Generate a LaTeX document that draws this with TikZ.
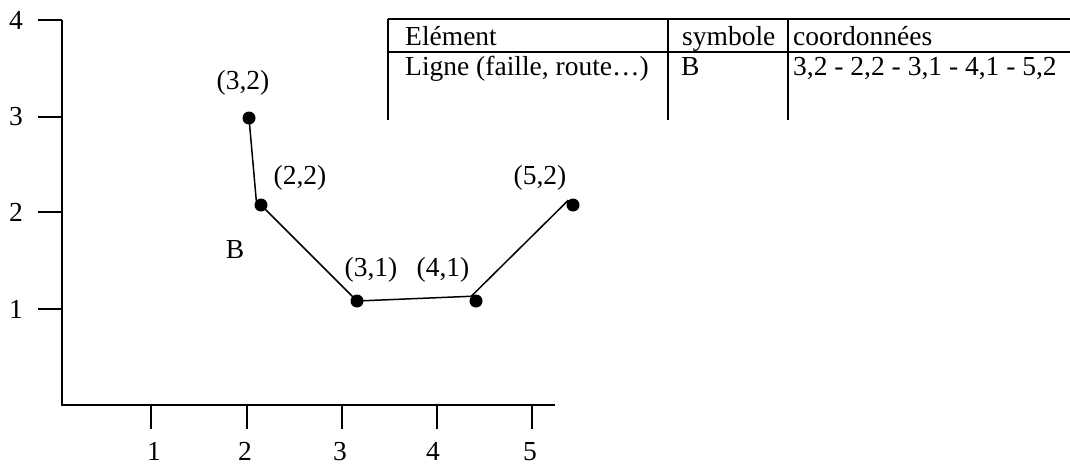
\documentclass[tikz,border=0pt]{standalone}
\usepackage{fontspec}
\setmainfont{Liberation Serif}
\begin{document}
\begin{tikzpicture}[x=1pt,y=-1pt,
  every node/.style={font=\fontsize{27.5}{33}\selectfont, inner sep=0pt},
  axis/.style={line width=1.6pt},
  rule/.style={line width=1.6pt},
  trace/.style={line width=1.5pt},
  pt/.style={circle, fill=black, minimum size=13pt, inner sep=0pt}]
\useasboundingbox (0,0) rectangle (1070,466);
% axes
\draw[axis] (62,20) -- (62,405) -- (555,405);
\foreach \y/\l in {20/4,117/3,212/2,309/1}{
  \draw[axis] (38,\y) -- (62,\y);
  \node (yl\l) at (16,\y) {\l};
}
\foreach \x/\lx/\l in {151/154/1,247/245/2,342/340/3,437/433/4,532/530/5}{
  \draw[axis] (\x,405) -- (\x,429);
  \node[anchor=base] (xl\l) at (\lx,460) {\l};
}
% points
\node[pt] (d1) at (249,118) {};
\node[pt] (d2) at (261,205) {};
\node[pt] (d3) at (357,301) {};
\node[pt] (d4) at (476,301) {};
\node[pt] (d5) at (573,205) {};
\draw[trace] (d1.center) -- (d2.north west) -- (d3.center) -- (d4.north west) -- (d5.north west);
% labels
\node (l1) at (243,83) {(3,2)};
\node (l2) at (300,178) {(2,2)};
\node (lb) at (235,250) {B};
\node (l3) at (371,270) {(3,1)};
\node (l4) at (443,270) {(4,1)};
\node (l5) at (540,178) {(5,2)};
% table
\draw[rule] (388,19) -- (1070,19);
\draw[rule] (388,52) -- (1070,52);
\draw[rule] (388,19) -- (388,120);
\draw[rule] (668,19) -- (668,120);
\draw[rule] (788,19) -- (788,120);
\node[anchor=base west] (h1) at (405,45) {Elément};
\node[anchor=base west] (h2) at (682,45) {symbole};
\node[anchor=base west] (h3) at (793,45) {coordonnées};
\node[anchor=base west] (c1) at (405,75) {Ligne (faille, route…)};
\node[anchor=base west] (c2) at (681,75) {B};
\node[anchor=base west] (c3) at (793,75) {3,2 - 2,2 - 3,1 - 4,1 - 5,2};
\end{tikzpicture}
\end{document}
